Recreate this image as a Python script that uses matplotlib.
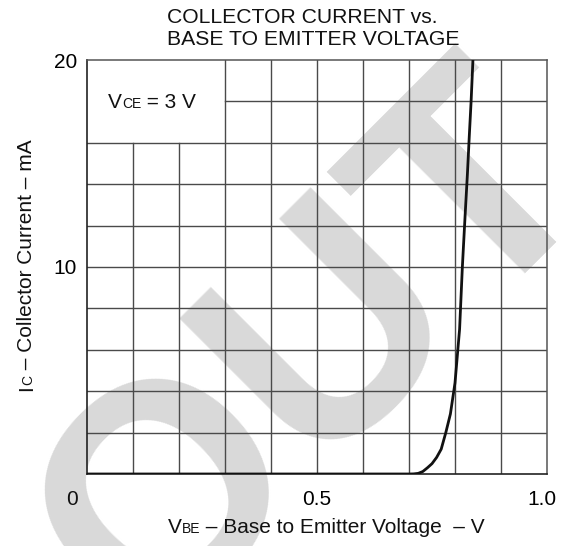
import matplotlib
matplotlib.use('Agg')
import matplotlib.pyplot as plt
import matplotlib.transforms as mtransforms

plt.rcParams['font.family'] = ['Liberation Sans', 'DejaVu Sans']

# values
vbe = [0.0, 0.70, 0.71, 0.72, 0.73, 0.74, 0.75, 0.76, 0.77, 0.78, 0.79,
       0.80, 0.81, 0.816, 0.822, 0.827, 0.831, 0.835, 0.839]
ic = [0.0, 0.0, 0.005, 0.03, 0.12, 0.3, 0.5, 0.8, 1.2, 2.0, 2.9,
      4.4, 7.0, 10.0, 12.5, 14.5, 16.3, 18.0, 20.0]

x_grid = [0.1, 0.2, 0.3, 0.4, 0.5, 0.6, 0.7, 0.8, 0.9]
y_grid = [2, 4, 6, 8, 10, 12, 14, 16, 18]
x_ticks = [0.5, 1.0]
x_ticklabels = ['0.5', '1.0']
y_ticks = [10, 20]
y_ticklabels = ['10', '20']

W, H = 566, 546
fig = plt.figure(figsize=(W / 100, H / 100), dpi=100)
ax = fig.add_axes([87 / W, 72 / H, 460 / W, 414 / H])
ax.set_xlim(0, 1.0)
ax.set_ylim(0, 20)

# grey watermark behind the grid
ax.text(374 / W, 1 - 412 / H, 'OUT', transform=fig.transFigure,
        fontsize=222, fontweight='bold', color='#d9d9d9', rotation=45,
        rotation_mode='anchor', ha='center', va='baseline',
        clip_on=False, zorder=0.5)

# grid, leaving a blank box for the condition label
gc = '#4a4a4a'
for x in x_grid:
    top = 16 if x < 0.3 else 20
    ax.plot([x, x], [0, top], color=gc, lw=1.0, zorder=1)
for y in y_grid:
    left = 0.3 if y > 16 else 0.0
    ax.plot([left, 1.0], [y, y], color=gc, lw=1.0, zorder=1)

ax.plot(vbe, ic, color='#111111', lw=2.0, zorder=3,
        solid_capstyle='butt')

for side in ['top', 'right']:
    ax.spines[side].set_color('#555555')
    ax.spines[side].set_linewidth(1.1)
for side in ['left', 'bottom']:
    ax.spines[side].set_color('#222222')
    ax.spines[side].set_linewidth(1.2)

ax.set_xticks(x_ticks)
ax.set_xticklabels(x_ticklabels)
ax.set_yticks(y_ticks)
ax.set_yticklabels(y_ticklabels)
ax.tick_params(axis='both', length=0, labelsize=15)
ax.tick_params(axis='x', pad=11.5)
ax.tick_params(axis='y', pad=7.2)
# the last x label sits a little inside the frame
lab = ax.get_xticklabels()[-1]
lab.set_transform(lab.get_transform() +
                  mtransforms.ScaledTranslation(-5 / 100, 0, fig.dpi_scale_trans))

renderer = fig.canvas.get_renderer()


def chain_text(x_px, y_px, pieces, rotation=0):
    # draw text pieces one after another (for small subscripts on the baseline)
    for s, size in pieces:
        t = fig.text(x_px / W, 1 - y_px / H, s, fontsize=size, rotation=rotation,
                     rotation_mode='anchor', ha='left', va='baseline', color='#111111')
        bb = t.get_window_extent(renderer)
        if rotation == 0:
            x_px += bb.width
        else:
            y_px -= bb.height


fig.text(72 / W, 1 - 505 / H, '0', fontsize=15, ha='center', va='baseline',
         color='#111111')

fig.text(167 / W, 1 - 23 / H, 'COLLECTOR CURRENT vs.', fontsize=15.2,
         ha='left', va='baseline', color='#111111')
fig.text(167 / W, 1 - 45 / H, 'BASE TO EMITTER VOLTAGE', fontsize=15.2,
         ha='left', va='baseline', color='#111111')

chain_text(108, 108, [('V', 15), ('CE', 10), (' = 3 V', 15)])
chain_text(168, 533, [('V', 15), ('BE', 10), (' \u2013 Base to Emitter Voltage  \u2013 V', 15)])
chain_text(32, 391, [('I', 15), ('C', 10), (' \u2013 Collector Current \u2013 mA', 15)], rotation=90)

fig.savefig('out.png', dpi=100)
